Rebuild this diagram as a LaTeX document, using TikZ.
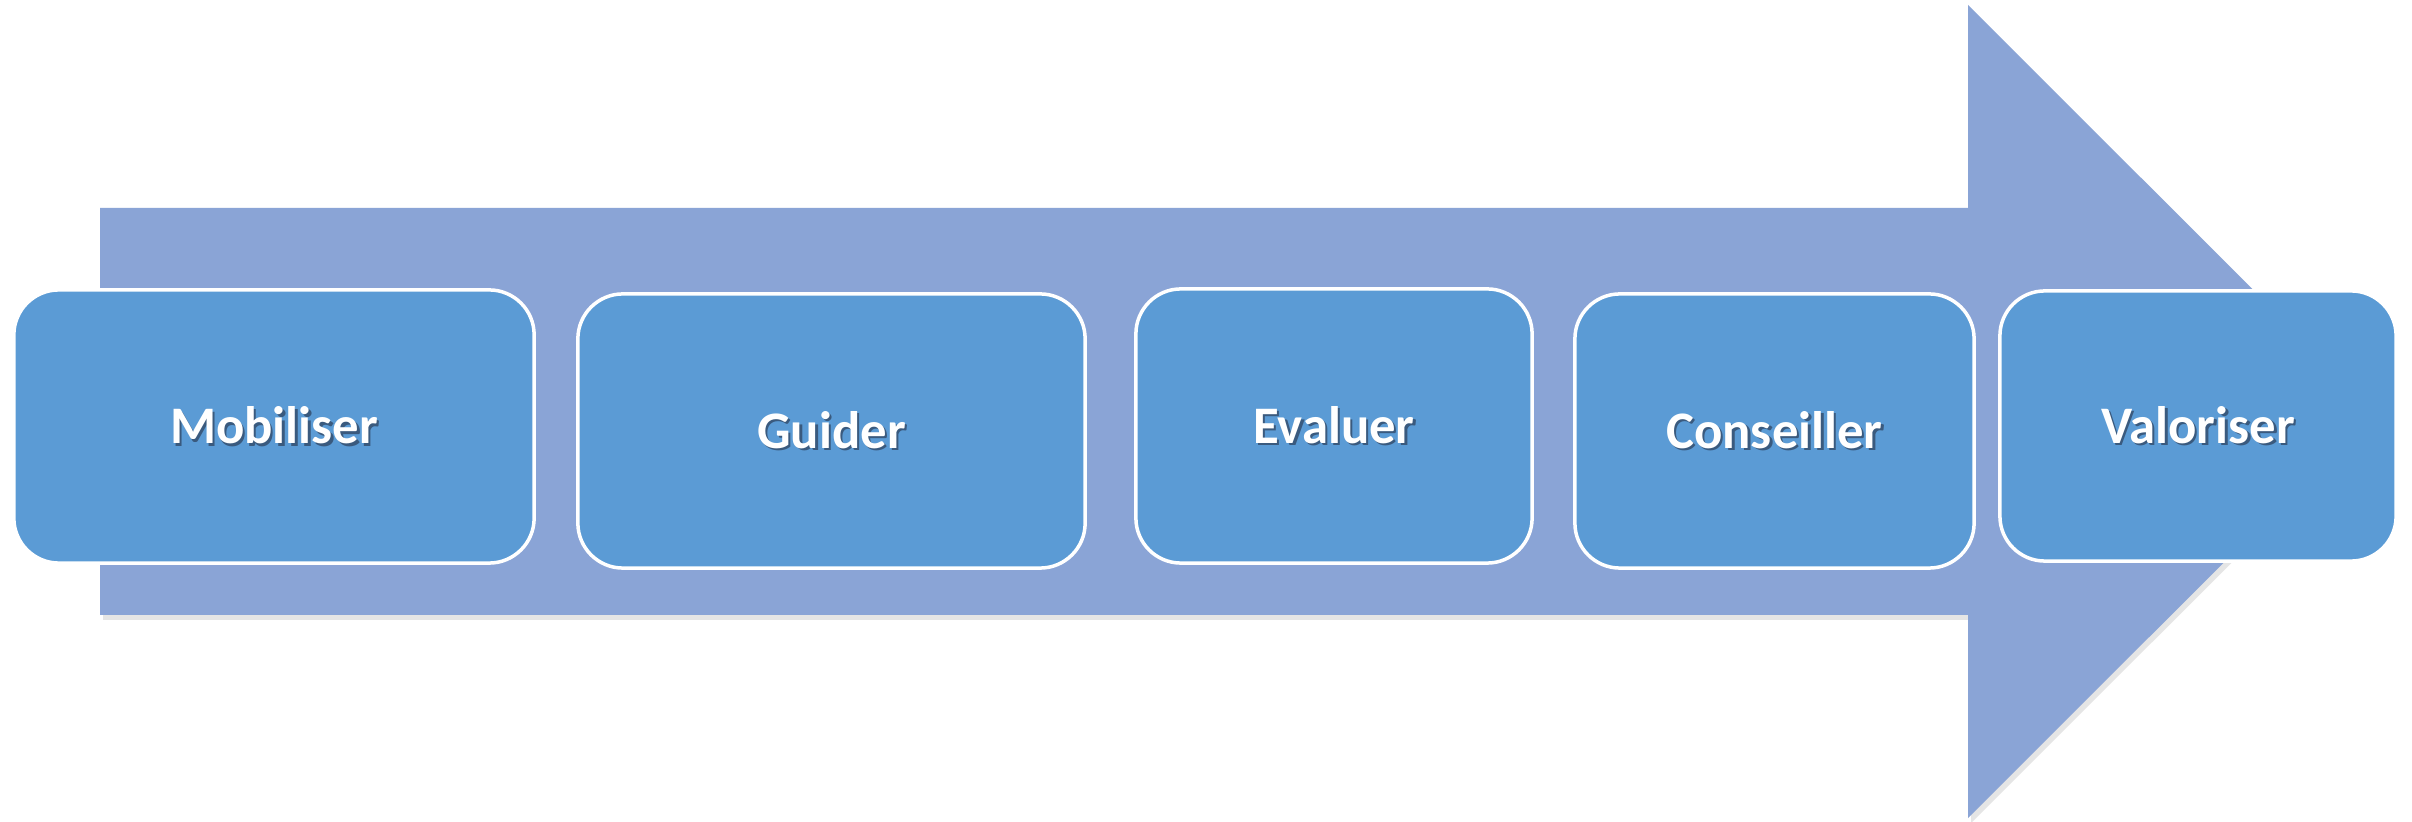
\documentclass[tikz,border=0pt]{standalone}
\usepackage{fontspec}
\setmainfont{Carlito}
\definecolor{arrowc}{HTML}{8AA4D6}
\definecolor{boxc}{HTML}{5B9BD5}
\definecolor{shadowc}{HTML}{3A5A7E}
\newcommand\shadowed[1]{\makebox[0pt][l]{\kern0.025cm\raisebox{-0.025cm}{\textcolor{shadowc}{#1}}}#1}
\tikzset{
  stepbox/.style={draw=white, line width=0.035cm, fill=boxc, rounded corners=0.45cm,
    text=white, font=\bfseries\fontsize{15pt}{18pt}\selectfont, inner sep=0pt},
  arrowpath/.style={},
}
\begin{document}
\begin{tikzpicture}[x=0.01cm,y=0.01cm]
\useasboundingbox (0,0) rectangle (2412,-822);
\fill[white] (0,0) rectangle (2412,-822);
% soft shadow of the big arrow
\fill[black!10, shift={(3,-5)}]
  (100,-208) -- (1968,-208) -- (1968,-5) -- (2375,-411.5) -- (1968,-818) -- (1968,-615) -- (100,-615) -- cycle;
% big arrow
\fill[arrowc]
  (100,-208) -- (1968,-208) -- (1968,-5) -- (2375,-411.5) -- (1968,-818) -- (1968,-615) -- (100,-615) -- cycle;
% boxes
\node[stepbox, minimum width=5.20cm, minimum height=2.73cm] (b1) at (274,-426.5) {\shadowed{Mobiliser}};
\node[stepbox, minimum width=5.07cm, minimum height=2.74cm] (b2) at (831.5,-431) {\shadowed{Guider}};
\node[stepbox, minimum width=3.96cm, minimum height=2.74cm] (b3) at (1334,-426) {\shadowed{Evaluer}};
\node[stepbox, minimum width=3.99cm, minimum height=2.74cm] (b4) at (1774.5,-431) {\shadowed{Conseiller}};
\node[stepbox, minimum width=3.96cm, minimum height=2.70cm] (b5) at (2198,-426) {\shadowed{Valoriser}};
\end{tikzpicture}
\end{document}
